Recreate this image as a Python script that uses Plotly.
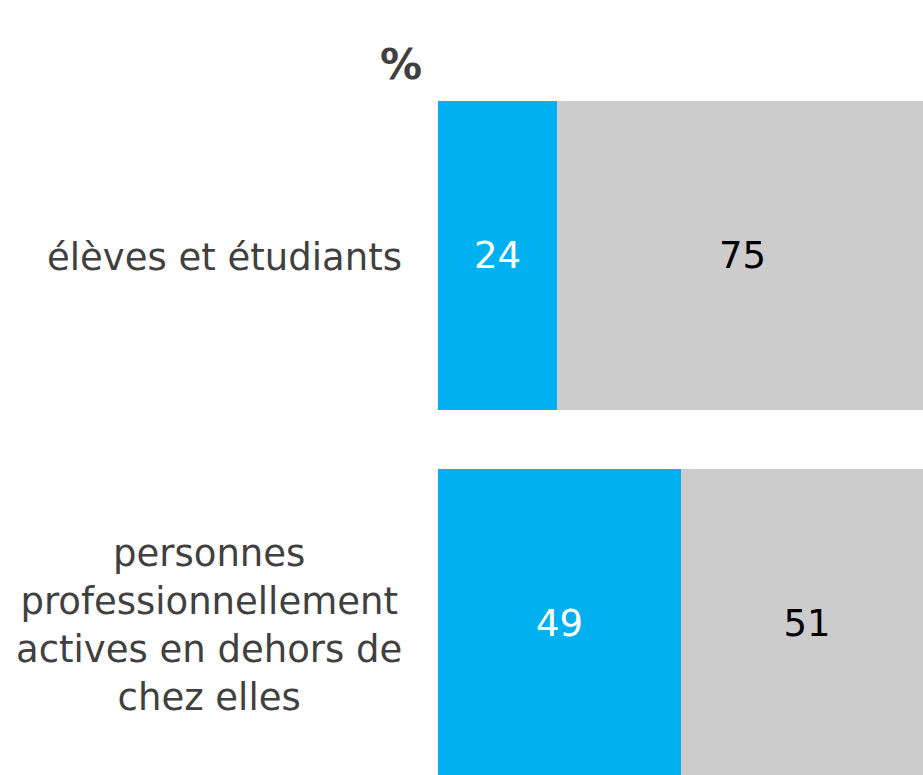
import plotly.graph_objects as go

# Survey shares (%) by group
categories = ["élèves et étudiants",
              "personnes<br>professionnellement<br>actives en dehors de<br>chez elles"]
share_yes = [24, 49]
share_no = [75, 51]

positions = list(range(len(categories)))

FONT = "DejaVu Sans, Verdana, sans-serif"
LABEL_COLOR = "#404040"

fig = go.Figure()
fig.add_trace(go.Bar(
    y=positions, x=share_yes, orientation="h", width=0.84,
    marker=dict(color="#00B0F0", line=dict(width=0)),
    text=[str(v) for v in share_yes], textposition="inside",
    insidetextanchor="middle", textangle=0,
    textfont=dict(family=FONT, size=37, color="white"),
    hoverinfo="skip",
))
fig.add_trace(go.Bar(
    y=positions, x=share_no, orientation="h", width=0.84,
    marker=dict(color="#CCCCCC", line=dict(width=0)),
    text=[str(v) for v in share_no], textposition="inside",
    insidetextanchor="middle", textangle=0,
    textfont=dict(family=FONT, size=37, color="black"),
    hoverinfo="skip",
))

# Category labels to the left of the bars, centred line by line
for pos, label in zip(positions, categories):
    fig.add_annotation(
        x=0, xref="paper", xanchor="right", xshift=-34,
        y=pos, yref="y", yanchor="middle", yshift=-2,
        text=label, showarrow=False, align="center",
        font=dict(family=FONT, size=37, color=LABEL_COLOR),
    )

fig.add_annotation(
    x=0, xref="paper", xanchor="right", xshift=-14,
    y=0.917, yref="paper", yanchor="middle",
    text="<b>%</b>", showarrow=False,
    font=dict(family=FONT, size=42, color=LABEL_COLOR),
)

fig.update_layout(
    width=923, height=775,
    margin=dict(l=438, r=0, t=0, b=0),
    barmode="stack", bargap=0,
    showlegend=False,
    plot_bgcolor="white", paper_bgcolor="white",
    uniformtext=dict(mode=False),
    xaxis=dict(range=[0, 98], visible=False, fixedrange=True),
    yaxis=dict(range=[1.412, -0.694], visible=False, fixedrange=True),
)

fig.write_html("out.html")
